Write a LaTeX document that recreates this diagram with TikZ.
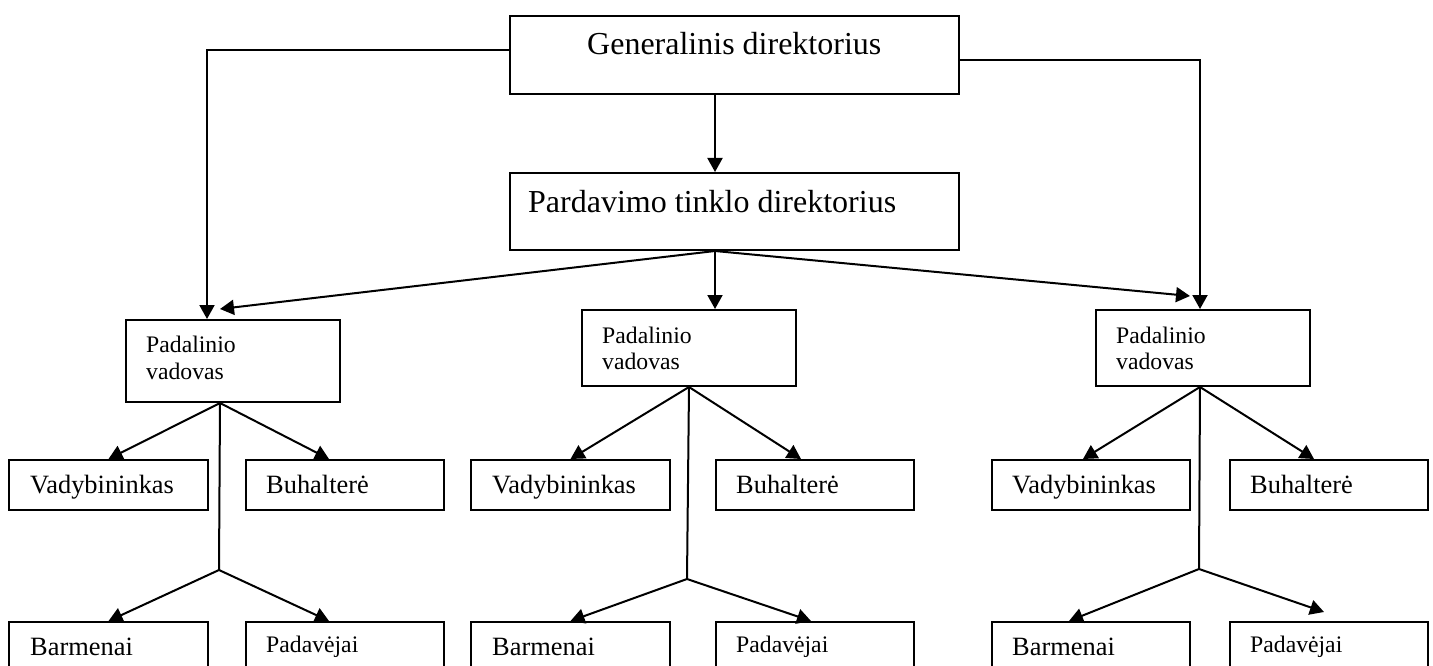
\documentclass[tikz,border=0pt]{standalone}
\usepackage{fontspec}
\setmainfont{Liberation Serif}
\usetikzlibrary{arrows.meta}
\begin{document}
\begin{tikzpicture}[x=1pt,y=-1pt,
  box/.style={draw,line width=2pt,rectangle,anchor=north west,inner sep=0pt},
  txt/.style={anchor=base west,inner sep=0pt},
  line/.style={line width=2pt},
  arr/.style={line width=2pt,-{Triangle[length=14pt,width=15pt]}},
  bigfont/.style={font=\fontsize{32}{38}\selectfont},
  midfont/.style={font=\fontsize{26.4}{30}\selectfont},
  smallfont/.style={font=\fontsize{23.7}{28}\selectfont}]
\useasboundingbox (0,0) rectangle (1433,666);
\clip (0,0) rectangle (1433,666);

% top level
\node[box,minimum width=449pt,minimum height=78pt] (gen) at (509,15) {};
\node[txt,bigfont] (genT) at (587,55) {Generalinis direktorius};
\node[box,minimum width=449pt,minimum height=77pt] (pard) at (509,172) {};
\node[txt,bigfont] (pardT) at (528,212) {Pardavimo tinklo direktorius};

% unit heads
\node[box,minimum width=214pt,minimum height=82pt] (padL) at (125,319) {};
\node[txt,smallfont] (padL1) at (146,352) {Padalinio};
\node[txt,smallfont] (padL2) at (146,379) {vadovas};
\node[box,minimum width=214pt,minimum height=76pt] (padM) at (581,309) {};
\node[txt,smallfont] (padM1) at (602,343) {Padalinio};
\node[txt,smallfont] (padM2) at (602,369) {vadovas};
\node[box,minimum width=214pt,minimum height=76pt] (padR) at (1095,309) {};
\node[txt,smallfont] (padR1) at (1116,343) {Padalinio};
\node[txt,smallfont] (padR2) at (1116,369) {vadovas};

% staff, left unit
\node[box,minimum width=199pt,minimum height=50pt] (vadL) at (8,459) {};
\node[txt,midfont] at (30,493) {Vadybininkas};
\node[box,minimum width=198pt,minimum height=50pt] (buhL) at (245,459) {};
\node[txt,midfont] at (266,493) {Buhalterė};
\node[box,minimum width=199pt,minimum height=80pt] (barL) at (8,621) {};
\node[txt,midfont] at (30,655) {Barmenai};
\node[box,minimum width=198pt,minimum height=80pt] (pvL) at (245,621) {};
\node[txt,smallfont] at (266,652) {Padavėjai};

% staff, middle unit
\node[box,minimum width=199pt,minimum height=50pt] (vadM) at (470,459) {};
\node[txt,midfont] at (492,493) {Vadybininkas};
\node[box,minimum width=198pt,minimum height=50pt] (buhM) at (715,459) {};
\node[txt,midfont] at (736,493) {Buhalterė};
\node[box,minimum width=199pt,minimum height=80pt] (barM) at (470,621) {};
\node[txt,midfont] at (492,655) {Barmenai};
\node[box,minimum width=198pt,minimum height=80pt] (pvM) at (715,621) {};
\node[txt,smallfont] at (736,652) {Padavėjai};

% staff, right unit
\node[box,minimum width=198pt,minimum height=50pt] (vadR) at (991,459) {};
\node[txt,midfont] at (1012,493) {Vadybininkas};
\node[box,minimum width=198pt,minimum height=50pt] (buhR) at (1229,459) {};
\node[txt,midfont] at (1250,493) {Buhalterė};
\node[box,minimum width=198pt,minimum height=80pt] (barR) at (991,621) {};
\node[txt,midfont] at (1012,655) {Barmenai};
\node[box,minimum width=198pt,minimum height=80pt] (pvR) at (1229,621) {};
\node[txt,smallfont] at (1250,652) {Padavėjai};

% general director links
\draw[arr] ([yshift=5pt]gen.west) -| ([xshift=82pt]padL.north west);
\draw[arr] ([yshift=-5pt]gen.east) -| ([xshift=-3pt]padR.north);
\draw[arr] ([xshift=-19.5pt]gen.south) -- ([xshift=-19.5pt]pard.north);

% sales network director links
\coordinate (pardS) at ([xshift=-19.5pt]pard.south);
\draw[arr] (pardS) -- ([shift={(95pt,10pt)}]padL.north west);
\draw[arr] (pardS) -- ([xshift=26pt]padM.north);
\draw[arr] (pardS) -- ([shift={(-13pt,13pt)}]padR.north);

% left unit branches
\coordinate (splitL) at (219,570);
\draw[arr] ([xshift=-13pt]padL.south) -- (vadL.north);
\draw[arr] ([xshift=-13pt]padL.south) -- ([xshift=-16pt]buhL.north);
\draw[line] ([xshift=-13pt]padL.south) -- (splitL);
\draw[arr] (splitL) -- (barL.north);
\draw[arr] (splitL) -- ([xshift=-16pt]pvL.north);

% middle unit branches
\coordinate (splitM) at (687,579);
\draw[arr] (padM.south) -- (vadM.north);
\draw[arr] (padM.south) -- ([xshift=-14pt]buhM.north);
\draw[line] (padM.south) -- (splitM);
\draw[arr] (splitM) -- (barM.north);
\draw[arr] (splitM) -- ([xshift=-4pt]pvM.north);

% right unit branches
\coordinate (splitR) at (1199,569);
\draw[arr] ([xshift=-3pt]padR.south) -- ([xshift=-8pt]vadR.north);
\draw[arr] ([xshift=-3pt]padR.south) -- ([xshift=-15pt]buhR.north);
\draw[line] ([xshift=-3pt]padR.south) -- (splitR);
\draw[arr] (splitR) -- ([xshift=-22pt]barR.north);
\draw[arr] (splitR) -- ([shift={(-5pt,9pt)}]pvR.north);
\end{tikzpicture}
\end{document}
